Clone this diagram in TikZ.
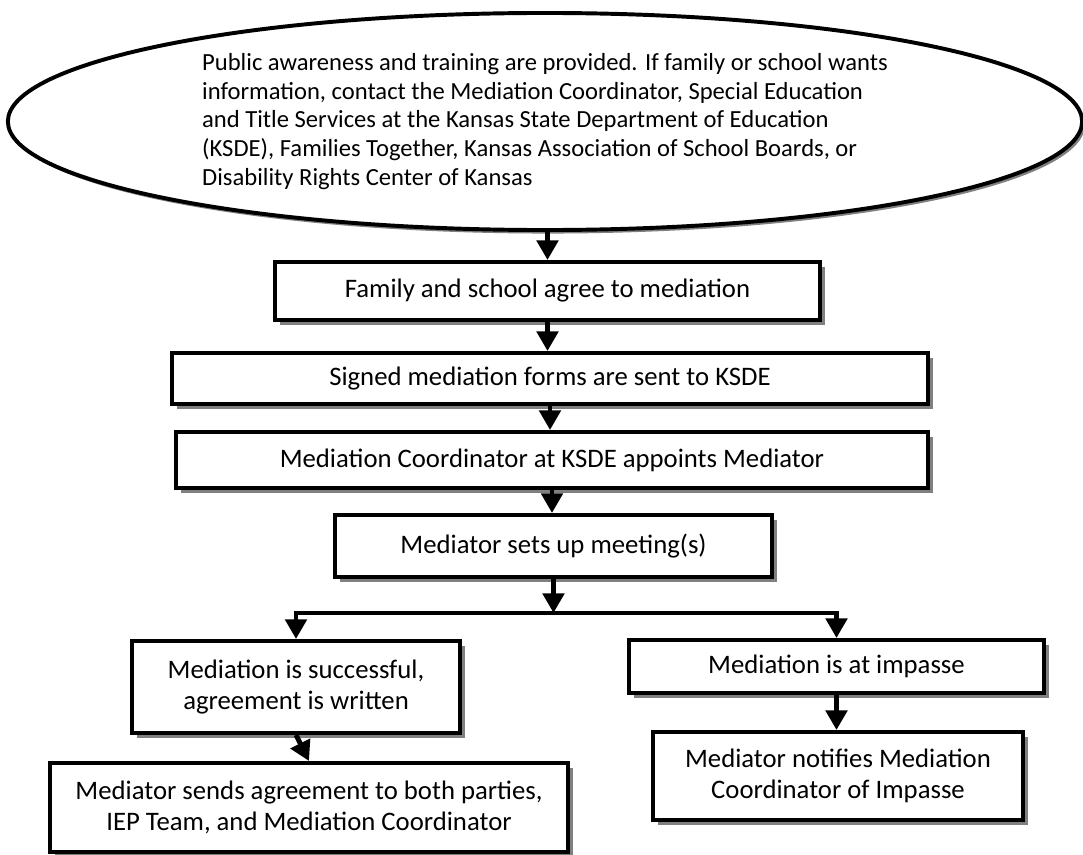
\documentclass[tikz,border=0pt]{standalone}
\usepackage{fontspec}
\setmainfont{Carlito}
\usepackage{tikz}
\usetikzlibrary{arrows.meta}
\usetikzlibrary{shapes.geometric}
\usetikzlibrary{shadows}

\begin{document}
\begin{tikzpicture}[x=0.025cm, y=-0.025cm,
		box/.style={shape=rectangle, draw=black, line width=2.8pt, fill=white, inner sep=0pt, align=center, font=\fontsize{19pt}{22pt}\selectfont, drop shadow={shadow xshift=3.5pt, shadow yshift=-3.5pt, fill=black!50, opacity=1}},
		oval/.style={shape=ellipse, draw=black, line width=2.8pt, fill=white, inner sep=0pt, align=left, font=\fontsize{17.5pt}{20.3pt}\selectfont, minimum width=26.85cm, minimum height=5.425cm, drop shadow={shadow xshift=2pt, shadow yshift=-2.5pt, fill=black!50, opacity=1}},
		conn/.style={line width=3.5pt},
		>={Triangle[length=14pt,width=15pt]},
]

\useasboundingbox (0,0) rectangle (1083,854);

\node[oval] (ell) at (545,121.5) {Public awareness and training are provided. If family or school wants\\
information, contact the Mediation Coordinator, Special Education\\
and Title Services at the Kansas State Department of Education\\
(KSDE), Families Together, Kansas Association of School Boards, or\\
Disability Rights Center of Kansas};

\node[box, minimum width=13.625cm, minimum height=1.45cm] (fam) at (547.5,291) {Family and school agree to mediation};
\node[box, minimum width=18.9cm, minimum height=1.275cm] (sig) at (550,378.5) {Signed mediation forms are sent to KSDE};
\node[box, minimum width=18.8cm, minimum height=1.4cm] (coord) at (552,460) {Mediation Coordinator at KSDE appoints Mediator};
\node[box, minimum width=10.925cm, minimum height=1.55cm] (setup) at (553.5,546) {Mediator sets up meeting(s)};

\node[box, minimum width=8.2cm, minimum height=2.3cm] (succ) at (296,687) {Mediation is successful,\\ agreement is written};
\node[box, minimum width=10.375cm, minimum height=1.325cm] (imp) at (836.5,666.5) {Mediation is at impasse};
\node[box, minimum width=12.95cm, minimum height=2.225cm] (sends) at (309,807.5) {Mediator sends agreement to both parties,\\ IEP Team, and Mediation Coordinator};
\node[box, minimum width=9.25cm, minimum height=2.2cm] (notif) at (838,776) {Mediator notifies Mediation\\ Coordinator of Impasse};

\coordinate (split) at (553.5,613);

\draw [->, conn] (fam.north |- ell.south) -- (fam.north);
\draw [->, conn] (fam.south) -- (fam.south |- sig.north);
\draw [->, conn] (sig.south) -- (sig.south |- coord.north);
\draw [->, conn] (coord.south) -- (coord.south |- setup.north);
\draw [->, conn] (setup.south) -- (split);
\draw [->, conn] (split) -| (succ.north);
\draw [->, conn] (split) -| (imp.north);
\draw [->, conn] (succ.south) -- (sends.north);
\draw [->, conn] (imp.south) -- (imp.south |- notif.north);

\end{tikzpicture}
\end{document}
